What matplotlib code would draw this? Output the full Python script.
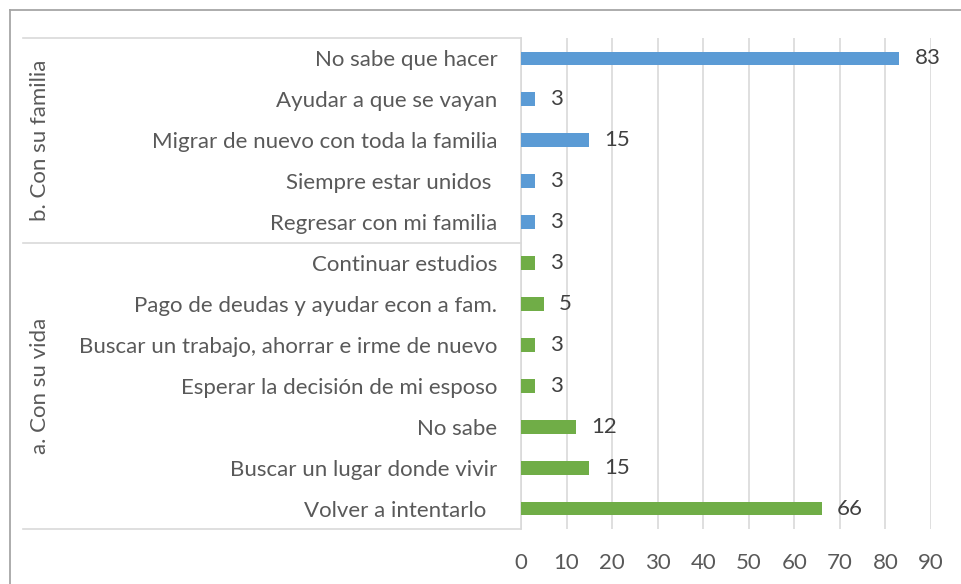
import matplotlib
matplotlib.use("Agg")
import matplotlib.pyplot as plt
from matplotlib.lines import Line2D

# Data (top to bottom as shown)
group_b = "b. Con su familia"
cats_b = ["No sabe que hacer", "Ayudar a que se vayan", "Migrar de nuevo con toda la familia",
          "Siempre estar unidos ", "Regresar con mi familia"]
vals_b = [83, 3, 15, 3, 3]

group_a = "a. Con su vida"
cats_a = ["Continuar estudios", "Pago de deudas y ayudar econ a fam.",
          "Buscar un trabajo, ahorrar e irme de nuevo", "Esperar la decisión de mi esposo",
          "No sabe", "Buscar un lugar donde vivir", "Volver a intentarlo  "]
vals_a = [3, 5, 3, 3, 12, 15, 66]

xticks = [0, 10, 20, 30, 40, 50, 60, 70, 80, 90]

BLUE = "#5B9BD5"
GREEN = "#70AD47"
TXT = "#595959"
GRID = "#D9D9D9"

plt.rcParams['font.family'] = ['Lato', 'DejaVu Sans']
FS = 16

W, H = 961, 584
fig = plt.figure(figsize=(W / 100, H / 100), dpi=100)

x0, x1 = 521, 931
y0, y1 = 38, 529
ax = fig.add_axes([x0 / W, 1 - y1 / H, (x1 - x0) / W, (y1 - y0) / H])

cats = cats_b + cats_a
vals = vals_b + vals_a
colors = [BLUE] * len(cats_b) + [GREEN] * len(cats_a)
n = len(cats)
ypos = list(range(n - 1, -1, -1))

ax.barh(ypos, vals, height=0.34, color=colors, zorder=3)
ax.set_ylim(-0.5, n - 0.5)
ax.set_xlim(0, 90)
ax.set_yticks(ypos)
ax.set_yticklabels(cats, fontsize=FS, color=TXT)
ax.set_xticks(xticks)
ax.set_xticklabels([str(t) for t in xticks], fontsize=FS, color=TXT)
ax.tick_params(axis='y', length=0, pad=17)
ax.tick_params(axis='x', length=0, pad=17)
ax.grid(axis='x', color=GRID, linewidth=1.2, zorder=0)
for s in ['top', 'right', 'bottom']:
    ax.spines[s].set_visible(False)
ax.spines['left'].set_color(GRID)
ax.spines['left'].set_linewidth(1.2)

for y, v in zip(ypos, vals):
    ax.annotate(str(v), (v, y), xytext=(11, 0), textcoords='offset points',
                va='center', ha='left', fontsize=FS, color="#404040")

# Group separators and labels (figure pixel coords)
def fx(px):
    return px / W

def fy(py):
    return 1 - py / H

ybsep = y0 + (y1 - y0) * len(cats_b) / n
for yy in [y0, ybsep, y1]:
    fig.add_artist(Line2D([fx(23), fx(x0)], [fy(yy), fy(yy)], color=GRID, linewidth=1.2))

fig.text(fx(40), fy((y0 + ybsep) / 2), group_b, rotation=90, ha='center', va='center',
         fontsize=FS, color=TXT)
fig.text(fx(40), fy((ybsep + y1) / 2), group_a, rotation=90, ha='center', va='center',
         fontsize=FS, color=TXT)

# Outer frame (top and left visible)
fig.add_artist(Line2D([fx(10), fx(10)], [fy(10), 0], color="#A6A6A6", linewidth=1.3))
fig.add_artist(Line2D([fx(10), 1], [fy(10), fy(10)], color="#A6A6A6", linewidth=1.3))

fig.savefig("out.png", dpi=100)
